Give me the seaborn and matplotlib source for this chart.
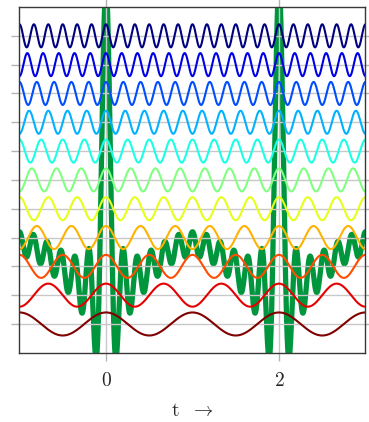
import numpy as np
import pandas as pd
import matplotlib
matplotlib.use('Agg')
import matplotlib.pyplot as plt
import seaborn as sns

# harmonics k = 2..12 of a period-2 signal, stacked one per grid line
harmonics = [2, 3, 4, 5, 6, 7, 8, 9, 10, 11, 12]
levels = [1, 2, 3, 4, 5, 6, 7, 8, 9, 10, 11]
colors = ['#800000', '#e60000', '#ff4d00', '#ffb200', '#e6ff1a', '#80ff80',
          '#1affe6', '#00b2ff', '#004dff', '#0000e6', '#000080']
amp = 0.4
period = 2.0
# the sum of all harmonics, scaled and shifted
sum_scale = 0.85
sum_offset = 3.35
t_range = (-1, 3)
xticks = [0, 2]

sns.set_style('white')
plt.rcParams['mathtext.fontset'] = 'cm'
plt.rcParams['font.family'] = ['DejaVu Serif']

t = np.linspace(t_range[0], t_range[1], 3000)

rows = []
for k, lev in zip(harmonics, levels):
    y = lev + amp * np.cos(2 * np.pi * k * t / period)
    rows.append(pd.DataFrame({'t': t, 'y': y, 'k': k}))
df = pd.concat(rows)

total = sum(np.cos(2 * np.pi * k * t / period) for k in harmonics)
green = pd.DataFrame({'t': t, 'y': sum_offset + sum_scale * total})

fig = plt.figure(figsize=(3.69, 4.22), dpi=100)
ax = fig.add_axes([0.0528, 0.164, 0.9377, 0.8194])

sns.lineplot(data=green, x='t', y='y', color='#00963e', lw=3.8, ax=ax, zorder=2)
sns.lineplot(data=df, x='t', y='y', hue='k', palette=colors[:len(harmonics)],
             lw=1.5, ax=ax, legend=False, zorder=3, estimator=None)

ax.set_xlim(*t_range)
ax.set_ylim(0, 12)
ax.set_xticks(xticks)
ax.set_xticklabels(['$%d$' % v for v in xticks], fontsize=14)
ax.set_yticks(levels)
ax.set_yticklabels([])
ax.grid(True, color='#c8c8c8', lw=1.0)
ax.set_axisbelow(False)
for gl in ax.get_xgridlines() + ax.get_ygridlines():
    gl.set_zorder(2.5)
ax.tick_params(direction='out', length=5.5, width=1.0, color='#b4b4b4',
               top=True, right=True, left=True, bottom=True, pad=8)
for s in ax.spines.values():
    s.set_color('#383838')
    s.set_linewidth(1.0)
    s.set_zorder(4)
ax.set_xlabel(r'$\mathrm{t}\ \ \rightarrow$', fontsize=14, labelpad=9)
ax.set_ylabel('')

fig.savefig('out.png', dpi=100)
